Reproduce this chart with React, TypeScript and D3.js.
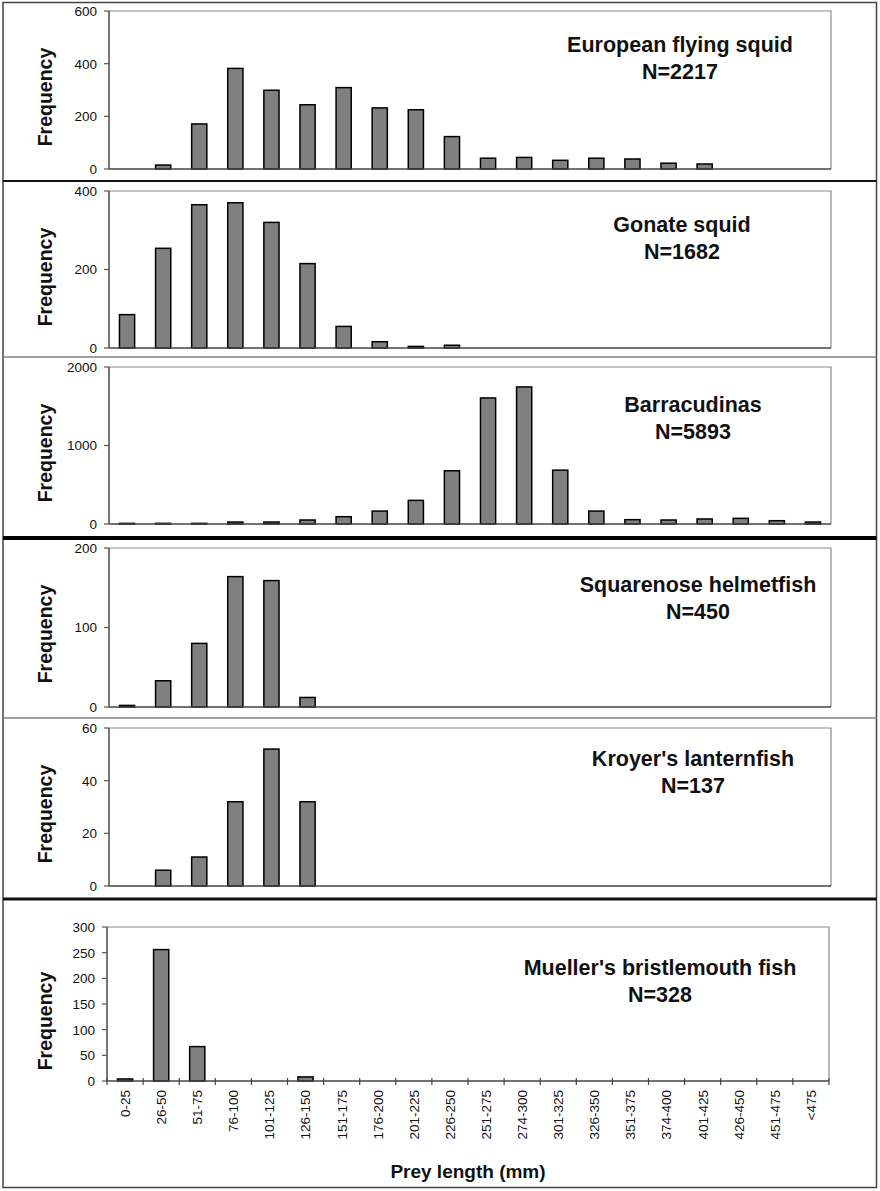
import * as d3 from "d3";

// ── Data ──────────────────────────────────────────────────────────────────────

const CATEGORIES = [
  "0-25", "26-50", "51-75", "76-100", "101-125", "126-150", "151-175",
  "176-200", "201-225", "226-250", "251-275", "274-300", "301-325",
  "326-350", "351-375", "374-400", "401-425", "426-450", "451-475", "<475",
];

const SPECIES = [
  "European flying squid",
  "Gonate squid",
  "Barracudinas",
  "Squarenose helmetfish",
  "Kroyer's lanternfish",
  "Mueller's bristlemouth fish",
];

const SAMPLE_SIZES = ["N=2217", "N=1682", "N=5893", "N=450", "N=137", "N=328"];

const FLYING_SQUID = [0, 15, 171, 382, 299, 244, 309, 232, 225, 123, 41, 44, 33, 41, 38, 22, 19, 0, 0, 0];
const GONATE_SQUID = [85, 254, 365, 370, 320, 215, 55, 16, 4, 7, 0, 0, 0, 0, 0, 0, 0, 0, 0, 0];
const BARRACUDINAS = [8, 8, 8, 25, 25, 51, 93, 165, 301, 678, 1606, 1746, 686, 165, 55, 51, 64, 72, 42, 25];
const HELMETFISH = [2, 33, 80, 164, 159, 12, 0, 0, 0, 0, 0, 0, 0, 0, 0, 0, 0, 0, 0, 0];
const LANTERNFISH = [0, 6, 11, 32, 52, 32, 0, 0, 0, 0, 0, 0, 0, 0, 0, 0, 0, 0, 0, 0];
const BRISTLEMOUTH = [4, 256, 67, 0, 0, 8, 0, 0, 0, 0, 0, 0, 0, 0, 0, 0, 0, 0, 0, 0];

const SERIES = [FLYING_SQUID, GONATE_SQUID, BARRACUDINAS, HELMETFISH, LANTERNFISH, BRISTLEMOUTH];

const Y_TICKS = [
  [0, 200, 400, 600],
  [0, 200, 400],
  [0, 1000, 2000],
  [0, 100, 200],
  [0, 20, 40, 60],
  [0, 50, 100, 150, 200, 250, 300],
];

// ── Layout ────────────────────────────────────────────────────────────────────

const W = 880;
const H = 1191;
const FONT = "'Liberation Sans', Arial, Helvetica, sans-serif";

interface PanelLayout {
  top: number;
  bottom: number;
  left: number;
  right: number;
  titleX: number;
  titleY: number;
  freqY: number;
}

const PANELS: PanelLayout[] = [
  { top: 11, bottom: 169, left: 109, right: 831, titleX: 680, titleY: 52, freqY: 97 },
  { top: 191, bottom: 348, left: 109, right: 831, titleX: 682, titleY: 232, freqY: 277 },
  { top: 367, bottom: 524, left: 109, right: 831, titleX: 693, titleY: 412, freqY: 453 },
  { top: 548, bottom: 707, left: 109, right: 831, titleX: 698, titleY: 592, freqY: 634 },
  { top: 728, bottom: 886, left: 109, right: 831, titleX: 693, titleY: 766, freqY: 814 },
  { top: 927, bottom: 1081, left: 107, right: 829, titleX: 660, titleY: 975, freqY: 1021 },
];

// separators between panels: y, width, colour
const SEPARATORS = [
  { y: 181, w: 2.2, c: "#111" },
  { y: 357, w: 1.6, c: "#808080" },
  { y: 538, w: 4, c: "#000" },
  { y: 718, w: 1.6, c: "#808080" },
  { y: 899, w: 3, c: "#111" },
];

// ── Panel ─────────────────────────────────────────────────────────────────────

function Panel({ index }: { index: number }) {
  const p = PANELS[index];
  const values = SERIES[index];
  const ticks = Y_TICKS[index];
  const isLast = index === PANELS.length - 1;

  const x = d3
    .scaleBand<string>()
    .domain(CATEGORIES)
    .range([p.left, p.right])
    .paddingInner(0.58)
    .paddingOuter(0.29);

  const y = d3
    .scaleLinear()
    .domain([0, d3.max(ticks) as number])
    .range([p.bottom, p.top]);

  const step = x.step();
  const boundary = (c: string) => (x(c) as number) - (step * x.paddingInner()) / 2;

  return (
    <g>
      {/* plot frame: top & right light */}
      <path
        d={`M${p.left},${y(ticks[ticks.length - 1])}H${p.right}V${y(0)}`}
        fill="none"
        stroke="#8a8a8a"
        strokeWidth={1.2}
      />

      {/* bars */}
      {values.map((v, i) =>
        v > 0 ? (
          <rect
            key={i}
            x={x(CATEGORIES[i])}
            y={y(v)}
            width={x.bandwidth()}
            height={y(0) - y(v)}
            fill="#808080"
            stroke="#000"
            strokeWidth={1.5}
          />
        ) : null
      )}

      {/* y axis */}
      <line x1={p.left} x2={p.left} y1={y(ticks[ticks.length - 1])} y2={y(0)} stroke="#555" strokeWidth={1.6} />
      {ticks.map((t) => (
        <g key={t}>
          <line x1={p.left - 5} x2={p.left} y1={y(t)} y2={y(t)} stroke="#555" strokeWidth={1.2} />
          <text
            x={p.left - 12}
            y={y(t)}
            dy="0.36em"
            textAnchor="end"
            fontFamily={FONT}
            fontSize={13.5}
            fill="#111"
          >
            {t}
          </text>
        </g>
      ))}

      {/* x axis */}
      <line x1={p.left} x2={p.right} y1={y(0)} y2={y(0)} stroke="#444" strokeWidth={1.6} />

      {isLast && (
        <g>
          {CATEGORIES.map((c) => (
            <line
              key={c}
              x1={boundary(c)}
              x2={boundary(c)}
              y1={y(0) - 3}
              y2={y(0) + 4}
              stroke="#444"
              strokeWidth={1.2}
            />
          ))}
          <line x1={p.right} x2={p.right} y1={y(0) - 3} y2={y(0) + 4} stroke="#444" strokeWidth={1.2} />
          {CATEGORIES.map((c) => (
            <text
              key={c}
              transform={`translate(${(x(c) as number) + x.bandwidth() / 2},${y(0) + 9}) rotate(-90)`}
              dy="0.36em"
              textAnchor="end"
              fontFamily={FONT}
              fontSize={13.5}
              fill="#111"
            >
              {c}
            </text>
          ))}
        </g>
      )}

      {/* y label */}
      <text
        transform={`translate(52,${p.freqY}) rotate(-90)`}
        textAnchor="middle"
        fontFamily={FONT}
        fontSize={19.5}
        fontWeight={700}
        fill="#111"
      >
        Frequency
      </text>

      {/* species title */}
      <text
        x={p.titleX}
        y={p.titleY}
        textAnchor="middle"
        fontFamily={FONT}
        fontSize={21.5}
        fontWeight={700}
        fill="#111"
      >
        {SPECIES[index]}
      </text>
      <text
        x={p.titleX}
        y={p.titleY + 26.5}
        textAnchor="middle"
        fontFamily={FONT}
        fontSize={21.5}
        fontWeight={700}
        fill="#111"
      >
        {SAMPLE_SIZES[index]}
      </text>
    </g>
  );
}

// ── App ───────────────────────────────────────────────────────────────────────

export default function App() {
  const last = PANELS[PANELS.length - 1];
  return (
    <svg
      width={W}
      height={H}
      style={{ position: "absolute", left: 0, top: 0, background: "#fff" }}
    >
      <rect x={0} y={0} width={W} height={H} fill="#fff" />
      <rect x={3} y={2.5} width={873.5} height={1185} fill="none" stroke="#444" strokeWidth={1.5} />

      {SEPARATORS.map((s) => (
        <line key={s.y} x1={3} x2={876.5} y1={s.y} y2={s.y} stroke={s.c} strokeWidth={s.w} />
      ))}

      {PANELS.map((_, i) => (
        <Panel key={i} index={i} />
      ))}

      <text
        x={(last.left + last.right) / 2}
        y={1178}
        textAnchor="middle"
        fontFamily={FONT}
        fontSize={19}
        fontWeight={700}
        fill="#111"
      >
        Prey length (mm)
      </text>
    </svg>
  );
}
